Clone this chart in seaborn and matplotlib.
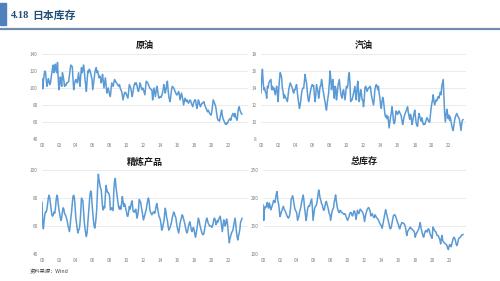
import matplotlib
matplotlib.use("Agg")
import matplotlib.pyplot as plt
import matplotlib.dates as mdates
import seaborn as sns
import pandas as pd
import numpy as np

sns.set_theme(style="white")
plt.rcParams['font.family'] = ['Noto Sans CJK SC', 'DejaVu Sans']

# ---------------- data (monthly, Jan 2000 - Sep 2023) ----------------
crude = [
    111, 99, 108, 115, 120, 118, 110, 102, 106, 111, 108, 104,
    106, 112, 118, 124, 127, 118, 122, 128, 120, 118, 130, 112,
    98, 104, 113, 108, 102, 118, 114, 109, 102, 104, 103, 106,
    106, 107, 108, 115, 122, 127, 126, 125, 112, 98, 104, 108,
    110, 108, 106, 112, 118, 108, 102, 115, 124, 118, 122, 127,
    120, 110, 104, 96, 108, 120, 118, 122, 121, 118, 114, 110,
    98, 104, 110, 118, 122, 124, 118, 120, 116, 112, 114, 112,
    106, 110, 116, 108, 100, 106, 112, 104, 94, 98, 100, 96,
    92, 90, 98, 106, 104, 102, 106, 110, 108, 107, 106, 104,
    103, 102, 104, 100, 98, 96, 92, 86, 90, 94, 95, 94,
    92, 90, 88, 96, 104, 102, 100, 95, 90, 94, 100, 104,
    106, 104, 106, 102, 98, 96, 100, 106, 104, 100, 98, 100,
    98, 95, 92, 100, 108, 107, 106, 104, 102, 100, 99, 98,
    98, 86, 92, 100, 95, 90, 96, 102, 98, 92, 88, 89,
    90, 89, 91, 94, 98, 104, 100, 94, 98, 104, 108, 98,
    90, 86, 84, 92, 98, 102, 101, 100, 98, 96, 94, 92,
    92, 94, 96, 92, 86, 90, 94, 90, 86, 80, 84, 88,
    86, 84, 86, 84, 82, 84, 86, 85, 82, 80, 78, 82,
    84, 86, 86, 80, 76, 80, 86, 84, 80, 78, 80, 82,
    82, 83, 84, 80, 78, 76, 74, 72, 74, 72, 70, 69,
    68, 72, 78, 86, 84, 82, 80, 76, 70, 64, 62, 62,
    61, 66, 70, 74, 68, 64, 62, 60, 58, 57, 59, 58,
    60, 62, 63, 64, 62, 66, 68, 70, 68, 66, 70, 66,
    64, 62, 70, 76, 78, 74, 72, 70, 69,
]

gasoline = [
    13.4, 15.2, 16.2, 14.8, 13.8, 14.0, 13.6, 13.4, 12.8, 14.2, 14.0, 14.6,
    14.8, 14.9, 15.0, 13.8, 14.2, 13.8, 14.0, 13.6, 13.2, 13.8, 14.2, 13.4,
    12.4, 14.0, 15.0, 15.8, 15.6, 15.2, 14.0, 13.6, 12.8, 13.2, 13.0, 12.8,
    12.6, 12.4, 13.0, 13.8, 14.2, 14.6, 14.4, 14.2, 14.0, 13.6, 13.4, 13.8,
    13.8, 14.2, 14.4, 13.6, 12.8, 12.2, 11.6, 12.0, 12.6, 13.4, 13.8, 14.0,
    14.0, 14.8, 15.6, 15.0, 14.6, 13.6, 12.8, 12.4, 12.8, 13.4, 13.8, 14.2,
    14.4, 14.2, 14.3, 13.2, 12.4, 13.2, 14.4, 14.0, 13.6, 12.8, 13.4, 14.2,
    14.2, 15.0, 14.6, 13.8, 13.4, 12.8, 12.4, 11.8, 11.4, 12.2, 12.8, 13.4,
    14.6, 16.0, 15.2, 13.8, 14.6, 15.0, 13.6, 12.8, 14.2, 14.0, 12.6, 13.2,
    14.2, 14.6, 15.0, 14.2, 13.4, 13.0, 12.8, 13.6, 13.8, 13.2, 12.6, 13.4,
    14.2, 14.0, 14.3, 15.4, 15.8, 14.6, 12.4, 12.6, 12.6, 13.0, 13.4, 13.8,
    14.2, 13.0, 12.6, 14.0, 14.8, 13.6, 12.4, 13.0, 13.8, 13.4, 12.6, 12.6,
    11.8, 12.6, 14.0, 14.2, 14.0, 13.6, 13.8, 14.0, 14.0, 14.2, 14.0, 13.2,
    12.8, 12.4, 12.0, 12.6, 13.8, 14.2, 14.4, 14.2, 13.8, 14.2, 13.4, 12.8,
    12.0, 11.6, 12.4, 12.9, 12.6, 11.8, 11.0, 10.6, 10.8, 10.4, 10.7, 10.2,
    9.3, 10.0, 10.6, 11.0, 11.8, 11.2, 10.2, 9.8, 10.0, 10.8, 11.3, 11.0,
    10.9, 11.2, 11.3, 11.1, 10.9, 10.7, 10.2, 9.7, 10.1, 10.6, 10.9, 11.1,
    11.3, 11.6, 11.8, 11.1, 10.7, 10.3, 10.9, 10.6, 9.7, 10.0, 10.5, 11.0,
    11.4, 10.6, 9.9, 9.6, 9.5, 10.4, 11.0, 10.7, 10.3, 10.1, 10.5, 10.1,
    9.7, 9.8, 9.7, 9.9, 10.2, 10.5, 10.4, 10.2, 10.0, 10.0, 10.8, 11.6,
    12.2, 12.6, 13.2, 12.4, 12.0, 12.3, 12.6, 12.5, 12.8, 13.0, 12.8, 13.2,
    13.5, 13.2, 14.2, 14.6, 15.0, 13.0, 11.0, 10.0, 10.8, 11.5, 11.0, 10.4,
    10.8, 10.2, 10.6, 10.0, 9.6, 9.2, 9.0, 9.6, 10.2, 10.6, 10.8, 11.0,
    10.8, 10.6, 10.5, 10.2, 9.6, 9.0, 9.8, 10.2, 10.3,
]

products = [
    77, 62, 58, 64, 68, 70, 70, 72, 76, 80, 82, 80,
    76, 72, 68, 67, 68, 70, 69, 72, 78, 82, 81, 76,
    72, 69, 66, 64, 66, 70, 73, 72, 69, 68, 67, 65,
    63, 60, 58, 56, 60, 66, 70, 76, 81, 82, 80, 74,
    66, 62, 58, 55, 57, 58, 62, 70, 80, 79, 78, 70,
    63, 58, 55, 52.5, 55, 62, 68, 76, 82, 85, 84, 76,
    70, 64, 60, 58.5, 62, 67, 75, 88, 97, 93, 90, 87,
    86, 80, 74, 71.5, 74, 73, 82, 89, 86, 84, 84, 83,
    81, 71.5, 72, 73, 72, 71, 86, 92, 94, 88, 84, 80,
    76, 73, 72, 74, 72, 76, 81, 78, 74, 76, 75, 72,
    70, 67, 67, 70, 74, 72, 74, 77, 78, 72, 70, 71,
    70, 72, 69, 65.6, 68, 72, 79, 78, 77, 74, 71, 68,
    64.4, 66, 68, 70, 72, 75, 78, 80, 78, 72, 70, 69,
    68, 69, 70, 70, 69, 71, 74, 76, 73, 70, 67, 66,
    64.4, 61, 57, 58, 61, 63, 68, 72.7, 70, 66, 64, 60,
    57, 58, 59, 61, 63, 66, 68, 70, 69, 67, 66, 62,
    59, 57, 55, 58, 62, 64, 66, 68, 67, 65, 63, 61,
    58, 56, 55, 57, 60, 62, 63, 60, 57, 56, 58, 59,
    57, 54, 52, 55, 58, 62, 65.6, 64, 61, 59, 57, 55,
    54, 53.8, 55, 58, 61, 64, 65.6, 64, 62, 61, 60, 60,
    60, 59, 60, 62, 65, 65.6, 64, 61, 62, 64, 63, 65,
    66, 67, 64, 60, 56, 60, 64.4, 63, 60, 62, 65, 63,
    58, 52, 48, 51.4, 53, 55, 56, 57, 60, 63, 65.6, 62,
    56, 52, 50, 53, 55, 58, 63, 64, 65.6,
]

total = [
    188, 160, 178, 185, 183, 186, 192, 185, 182, 191, 186, 179,
    182, 186, 190, 195.5, 194, 192, 200, 208, 211.5, 196, 190, 180,
    167, 170, 175, 178, 182, 185, 180, 178, 175, 172, 168, 166,
    164, 166, 170, 180, 198, 200, 204, 198, 190, 182, 178, 176,
    172, 160, 164, 168, 176, 180, 186, 193.7, 200, 205.5, 196, 182,
    172, 160, 166, 178, 184, 186, 185, 190, 195, 198, 184, 160,
    170, 180, 184, 186, 188, 196, 205, 214.4, 208, 200, 196, 190,
    188, 182, 178, 179, 186, 192, 194, 188, 184, 178, 172, 170,
    160, 168, 176, 180, 182, 192, 198, 205.5, 196, 186, 180, 176,
    174, 177, 178, 175, 174, 173, 172, 171, 172, 170, 166, 163,
    160, 163, 166, 172, 174, 174, 170, 168, 172, 177, 176, 170,
    162, 170, 178, 175, 172, 176, 180, 178, 177, 175, 172, 168,
    158, 165, 172, 176, 180, 182, 183, 180, 176, 168, 170, 172,
    168, 166, 165, 170, 168, 165, 164, 162, 160, 157, 154, 152,
    150, 146, 152, 158, 165, 172, 179, 174, 168, 163, 158, 152,
    146, 145, 148, 155, 162, 168, 170, 170, 168, 164, 160, 156,
    153, 148, 145, 150, 153, 156, 156, 155, 154, 152, 148, 140,
    133, 140, 142, 144, 146, 148, 146, 145, 144, 142, 141, 138,
    130, 135, 137, 140, 142, 145, 150, 156, 148, 142, 137, 132,
    130, 136, 140, 142, 141, 139, 144, 145, 142, 136, 133, 130,
    128, 148, 146, 143, 141, 140, 137, 133, 133, 132, 128, 125,
    118, 128, 133, 124, 122, 120, 119, 118, 117, 115, 110, 108,
    114, 117, 114, 113, 118, 124, 128, 130, 128, 124, 118, 115,
    118, 125, 128, 129, 130, 132, 134, 134, 135,
]

titles = ["原油", "汽油", "精炼产品", "总库存"]
y_ticks = [[40, 60, 80, 100, 120, 140], [8, 10, 12, 14, 16, 18],
           [40, 60, 80, 100], [100, 150, 200, 250]]
x_tick_years = list(range(2000, 2023, 2))
header = "日本库存"
header_num = "4.18"
source = "资料来源：Wind"

dates = pd.date_range("2000-01-01", periods=len(crude), freq="MS")
series = [crude, gasoline, products, total]

LINE = "#5b9bd5"
fig = plt.figure(figsize=(5.0, 2.81), dpi=100)

# header
fig.patches.append(plt.Rectangle((0, 1 - 25 / 281), 6 / 500, 22 / 281,
                                 transform=fig.transFigure, color="#4f81bd", zorder=5))
fig.add_artist(plt.Line2D([0, 1], [1 - 28.5 / 281] * 2, transform=fig.transFigure,
                          color="#6e8cab", lw=1.6))
fig.text(11 / 500, 1 - 16 / 281, header_num, fontsize=7.5, fontweight="bold",
         color="#1f4e79", family=["Liberation Serif"], va="center", ha="left")
fig.text(32 / 500, 1 - 16 / 281, header, fontsize=7.8, fontweight="bold",
         color="#1f4e79", family=["Noto Sans CJK SC"], va="center", ha="left")
fig.text(30 / 500, 1 - 272 / 281, source, fontsize=3.8, color="#404040",
         family=["Noto Sans CJK SC", "DejaVu Sans"], va="center", ha="left")

# axes rects: left, bottom, width, height (figure fractions)
rects = [
    (42 / 500, 1 - 139 / 281, 206 / 500, 85 / 281),
    (261 / 500, 1 - 139 / 281, 205 / 500, 85 / 281),
    (42 / 500, 1 - 254 / 281, 206 / 500, 84 / 281),
    (263 / 500, 1 - 254 / 281, 203 / 500, 84 / 281),
]
x_right = [pd.Timestamp("2024-05-15"), pd.Timestamp("2024-01-01"),
           pd.Timestamp("2024-05-15"), pd.Timestamp("2024-01-01")]

for i in range(4):
    ax = fig.add_axes(rects[i])
    df = pd.DataFrame({"date": dates, "value": series[i]})
    sns.lineplot(data=df, x="date", y="value", ax=ax, color=LINE, lw=1.1)
    ax.set_ylim(y_ticks[i][0], y_ticks[i][-1])
    ax.set_yticks(y_ticks[i])
    ax.set_xlim(pd.Timestamp("2000-01-01"), x_right[i])
    ax.set_xticks([pd.Timestamp(f"{y}-01-01") for y in x_tick_years])
    ax.xaxis.set_major_formatter(mdates.DateFormatter("%y"))
    ax.grid(axis="y", color="#e3e3e3", lw=0.5)
    ax.set_axisbelow(True)
    for s in ax.spines.values():
        s.set_visible(False)
    ax.tick_params(axis="both", length=0, labelsize=3.4, labelcolor="#7f7f7f", pad=3)
    ax.set_xlabel("")
    ax.set_ylabel("")
    ax.set_title(titles[i], fontsize=6.5, fontweight="bold", color="#1a1a1a", pad=4)

fig.savefig("out.png", dpi=100)
